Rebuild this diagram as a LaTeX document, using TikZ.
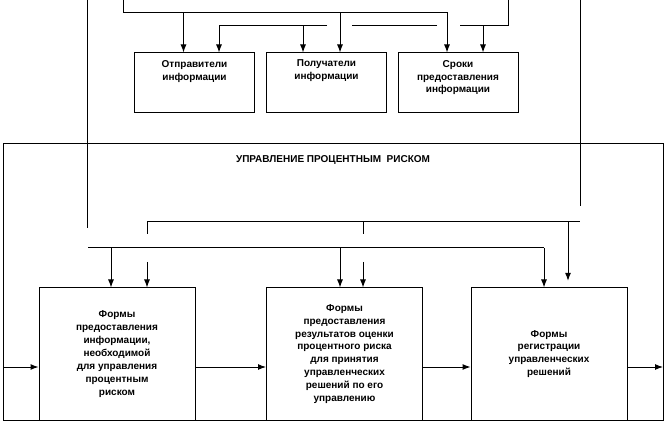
\documentclass[tikz,border=0pt]{standalone}
\usepackage{fontspec}
\setmainfont{Liberation Sans}
\usetikzlibrary{arrows.meta}

\tikzset{
  box/.style={draw, inner sep=0pt},
  topbox/.style={box, minimum width=90pt, minimum height=45pt},
  lowbox/.style={box, minimum width=117pt, minimum height=99pt},
  txt/.style={font=\fontsize{7.5}{9.7}\selectfont\bfseries, align=center},
  toptxt/.style={txt, anchor=north, yshift=-2pt},
}

\begin{document}
\begin{tikzpicture}[x=0.75pt,y=-0.75pt,>={Latex[length=6pt,width=4.5pt]},line width=0.75pt]
\useasboundingbox (0,0) rectangle (666,423);

% outer frame
\node[box, minimum width=495pt, minimum height=207pt] (frame) at (333,282) {};
\node[txt, anchor=north] (title) at (333,151) {УПРАВЛЕНИЕ ПРОЦЕНТНЫМ\ \ РИСКОМ};

% upper boxes
\node[topbox, label={[toptxt]north:Отправители\\информации}] (sender) at (194.5,83) {};
\node[topbox, label={[toptxt]north:Получатели\\информации}] (receiver) at (326.5,83) {};
\node[topbox, label={[toptxt]north:Сроки\\предоставления\\информации}] (terms) at (458,83) {};

% lower boxes
\node[lowbox, txt] (formA) at (117,354) {Формы\\предоставления\\информации,\\необходимой\\для управления\\процентным\\риском};
\node[lowbox, txt] (formB) at (344.5,354) {Формы\\предоставления\\результатов оценки\\процентного риска\\для принятия\\управленческих\\решений по его\\управлению};
\node[lowbox, txt] (formC) at (549,354) {Формы\\регистрации\\управленческих\\решений};

% lines coming from above
\coordinate (inA) at (123,0);
\coordinate (inB) at (508,0);
\coordinate (a1) at (183.5,13);
\coordinate (a2) at (340,13);
\coordinate (a3) at (447,13);
\draw[->] (inA) |- (a3) -- (a3 |- terms.north);
\draw[->] (a1) -- (a1 |- sender.north);
\draw[->] (a2) -- (a2 |- receiver.north);

\coordinate (b1) at (219,26);
\coordinate (b2) at (303,26);
\coordinate (b3) at (483,26);
\draw (inB) |- (460,26);
\draw (437,26) -- (352,26);
\draw[->] (327,26) -- (b1) -- (b1 |- sender.north);
\draw[->] (b2) -- (b2 |- receiver.north);
\draw[->] (b3) -- (b3 |- terms.north);

% long verticals
\draw (87,0) -- (87,228);
\draw (580,0) -- (580,206);

% inner buses
\coordinate (c1) at (147,262);
\coordinate (c2) at (363,262);
\coordinate (c3) at (568,222);
\draw (147,234) |- (580,222);
\draw (363,222) -- (363,234);
\draw[->] (c1) -- (c1 |- formA.north);
\draw[->] (c2) -- (c2 |- formB.north);
\draw[->, shorten >=5pt] (c3) -- (c3 |- formC.north);

\coordinate (d1) at (111,248);
\coordinate (d2) at (340,248);
\coordinate (d3) at (544,248);
\draw (88,248) -- (d3);
\draw[->] (d1) -- (d1 |- formA.north);
\draw[->] (d2) -- (d2 |- formB.north);
\draw[->] (d3) -- (d3 |- formC.north);

% flow
\coordinate (flowL) at (3,367);
\coordinate (flowR) at (663,367);
\draw[->] (flowL) -- (flowL -| formA.west);
\draw[->] (formA.east |- flowL) -- (formB.west |- flowL);
\draw[->] (formB.east |- flowL) -- (formC.west |- flowL);
\draw[->] (formC.east |- flowL) -- (flowR);
\end{tikzpicture}
\end{document}
